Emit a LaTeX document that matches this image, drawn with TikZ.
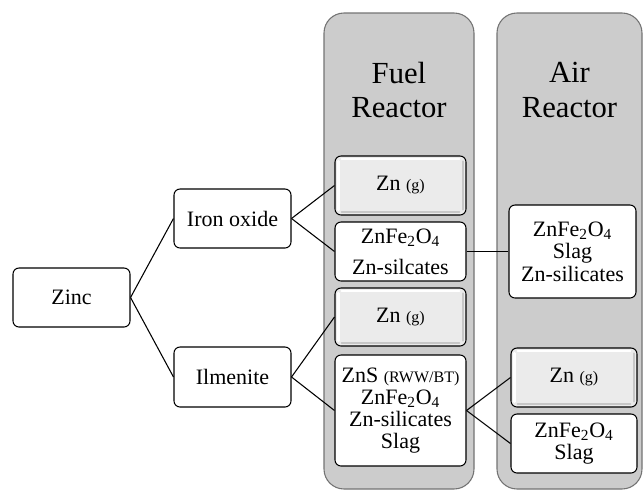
\documentclass[tikz,border=0pt]{standalone}
\usepackage{fontspec}
\setmainfont{Liberation Serif}
\newcommand\smalltxt[1]{{\fontsize{12}{12}\selectfont #1}}
\newcommand\sub[1]{\textsubscript{#1}}
\begin{document}
\begin{tikzpicture}[x=0.75pt,y=-0.75pt,
  panel/.style={draw=black!55,fill=black!20,line width=0.8pt,rounded corners=15pt},
  box/.style={draw=black,fill=white,line width=0.8pt,rounded corners=4.5pt,align=center,inner sep=0pt,
    font=\fontsize{16.5}{18}\selectfont},
  gbox/.style={box,fill=black!8,
    path picture={
      \draw[white,line width=2.2pt,line cap=round]
        ([xshift=2.5pt,yshift=4pt]path picture bounding box.south west) --
        ([xshift=2.5pt,yshift=-4pt]path picture bounding box.north west);
      \draw[white,line width=1.5pt,line cap=round]
        ([xshift=5pt,yshift=-2pt]path picture bounding box.north west) --
        ([xshift=-5pt,yshift=-2pt]path picture bounding box.north east);
      \draw[black!22,line width=1.6pt,line cap=round]
        ([xshift=-2.2pt,yshift=-4pt]path picture bounding box.north east) --
        ([xshift=-2.2pt,yshift=4pt]path picture bounding box.south east);
      \draw[black!22,line width=1.4pt,line cap=round]
        ([xshift=5pt,yshift=2pt]path picture bounding box.south west) --
        ([xshift=-5pt,yshift=2pt]path picture bounding box.south east);
    }},
  title/.style={align=center,inner sep=0pt,font=\fontsize{23}{26}\selectfont},
  conn/.style={draw=black,line width=0.8pt}]
\useasboundingbox (0,0) rectangle (643,490);
% panels
\path[panel] (324,13) rectangle (474,489);
\path[panel] (497,13) rectangle (642,489);
\node[title] (ft) at (399,90) {Fuel\\Reactor};
\node[title] (at) at (569.5,90) {Air\\Reactor};
% left tree
\node[box,minimum width=87.75pt,minimum height=44.25pt] (zinc) at (71.5,297.5) {Zinc};
\node[box,minimum width=87.75pt,minimum height=44.25pt] (iron) at (232.5,218.5) {Iron oxide};
\node[box,minimum width=87.75pt,minimum height=45pt] (ilm) at (232.5,377) {Ilmenite};
% fuel reactor boxes
\node[gbox,minimum width=98.25pt,minimum height=44.25pt] (zng1) at (400.5,185.5) {Zn \smalltxt{(g)}};
\node[box,minimum width=98.25pt,minimum height=44.25pt,font=\fontsize{16.5}{23}\selectfont] (zfe1) at (400.5,251.5) {ZnFe\sub{2}O\sub{4}\\Zn-silcates};
\node[gbox,minimum width=98.25pt,minimum height=43.5pt] (zng2) at (400.5,317) {Zn \smalltxt{(g)}};
\node[box,minimum width=98.25pt,minimum height=83.25pt,font=\fontsize{16.5}{16.5}\selectfont] (zns) at (400.5,410.5) {ZnS \smalltxt{(RWW/BT)}\\ZnFe\sub{2}O\sub{4}\\Zn-silicates\\Slag};
% air reactor boxes
\node[box,minimum width=95.25pt,minimum height=69.75pt,font=\fontsize{16.5}{17}\selectfont] (air1) at (572.5,251.5) {ZnFe\sub{2}O\sub{4}\\Slag\\Zn-silicates};
\node[gbox,minimum width=94.5pt,minimum height=44.25pt] (zng3) at (574,377.5) {Zn \smalltxt{(g)}};
\node[box,minimum width=94.5pt,minimum height=44.25pt,font=\fontsize{16.5}{17}\selectfont] (air3) at (574,443.5) {ZnFe\sub{2}O\sub{4}\\Slag};
% connectors
\draw[conn] (zinc.east) -- (iron.west);
\draw[conn] (zinc.east) -- (ilm.west);
\draw[conn] (iron.east) -- (zng1.west);
\draw[conn] (iron.east) -- (zfe1.west);
\draw[conn] (ilm.east) -- (zng2.west);
\draw[conn] (ilm.east) -- (zns.west);
\draw[conn] (zfe1.east) -- (air1.west);
\draw[conn] (zns.east) -- (zng3.west);
\draw[conn] (zns.east) -- (air3.west);
\end{tikzpicture}
\end{document}
